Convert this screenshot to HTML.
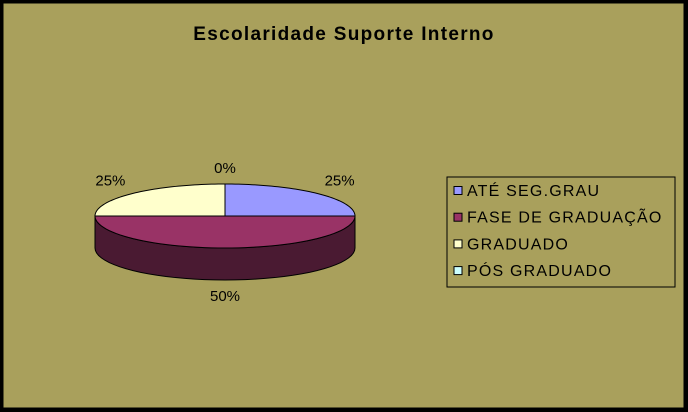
<!DOCTYPE html>
<html><head><meta charset="utf-8"><style>
html,body{margin:0;padding:0;background:#000;}
svg{display:block;font-family:"Liberation Sans",sans-serif;}
</style></head><body>
<svg id="chart" width="688" height="412">
<rect x="2" y="2" width="683" height="407" fill="#A9A05C" stroke="#000" stroke-width="3"/>
<text x="344" y="40" text-anchor="middle" font-size="19" font-weight="bold" letter-spacing="1.3" fill="#000">Escolaridade Suporte Interno</text>
<g id="pie"></g>
<rect x="447" y="177" width="228" height="110" fill="none" stroke="#000" stroke-width="1"/>
<g id="legend"></g>
</svg>
<script>
const categories=["ATÉ SEG.GRAU","FASE DE GRADUAÇÃO","GRADUADO","PÓS GRADUADO"];
const values=[25,50,25,0];
const labels=["25%","50%","25%","0%"];
const colors=["#9999FF","#993366","#FFFFCC","#CCFFFF"];
const sideColors=["#4C4C80","#4A1A32","#80806A","#668080"];
const NS="http://www.w3.org/2000/svg";
const cx=225,cy=216,rx=130,ry=32,depth=32;
const pie=document.getElementById('pie');
const total=values.reduce((a,b)=>a+b,0);
function pt(a,dy){return [cx+rx*Math.sin(a),cy-ry*Math.cos(a)+(dy||0)];}
let ang=0;const slices=[];
values.forEach((v,i)=>{const a0=ang,a1=ang+v/total*2*Math.PI;slices.push([a0,a1]);ang=a1;});
slices.forEach(([a0,a1],i)=>{
  const s=Math.max(a0,Math.PI/2),e=Math.min(a1,3*Math.PI/2);
  if(e<=s)return;
  const n=40;let d="";
  for(let k=0;k<=n;k++){const p=pt(s+(e-s)*k/n);d+=(k?"L":"M")+p[0].toFixed(2)+","+p[1].toFixed(2);}
  for(let k=n;k>=0;k--){const p=pt(s+(e-s)*k/n,depth);d+="L"+p[0].toFixed(2)+","+p[1].toFixed(2);}
  d+="Z";
  const el=document.createElementNS(NS,'path');
  el.setAttribute('d',d);el.setAttribute('fill',sideColors[i]);el.setAttribute('stroke','#000');el.setAttribute('stroke-width','1');
  
  
  pie.appendChild(el);
});
slices.forEach(([a0,a1],i)=>{
  if(a1<=a0)return;
  const n=60;let d="M"+cx+","+cy;
  for(let k=0;k<=n;k++){const p=pt(a0+(a1-a0)*k/n);d+="L"+p[0].toFixed(2)+","+p[1].toFixed(2);}
  d+="Z";
  const el=document.createElementNS(NS,'path');
  el.setAttribute('d',d);el.setAttribute('fill',colors[i]);el.setAttribute('stroke','#000');el.setAttribute('stroke-width','1');
  
  
  pie.appendChild(el);
});
slices.forEach(([a0,a1],i)=>{
  const m=(a0+a1)/2;
  let x=cx+(rx+32)*Math.sin(m), y=cy-ry*Math.cos(m)-8;
  if(Math.cos(m)<0) y=cy+ry+depth+21;
  if(values[i]===0){x=cx;y=cy-ry-11;}
  const t=document.createElementNS(NS,'text');
  t.setAttribute('x',x.toFixed(1));t.setAttribute('y',y.toFixed(1));
  t.setAttribute('text-anchor','middle');t.setAttribute('font-size','15');t.setAttribute('fill','#000');
  t.textContent=labels[i];
  
  
  pie.appendChild(t);
});
const lg=document.getElementById('legend');
categories.forEach((c,i)=>{
  const y=190+i*26.7;
  const r=document.createElementNS(NS,'rect');
  r.setAttribute('x',454);r.setAttribute('y',(y-3.5).toFixed(1));r.setAttribute('width',8);r.setAttribute('height',8);
  r.setAttribute('fill',colors[i]);r.setAttribute('stroke','#000');r.setAttribute('stroke-width','1');
  
  
  lg.appendChild(r);
  const t=document.createElementNS(NS,'text');
  t.setAttribute('x',467);t.setAttribute('y',(y+6).toFixed(1));t.setAttribute('font-size','16');t.setAttribute('fill','#000');
  t.setAttribute('letter-spacing','1.2');
  t.textContent=c;
  
  
  lg.appendChild(t);
});
</script>
</body></html>
